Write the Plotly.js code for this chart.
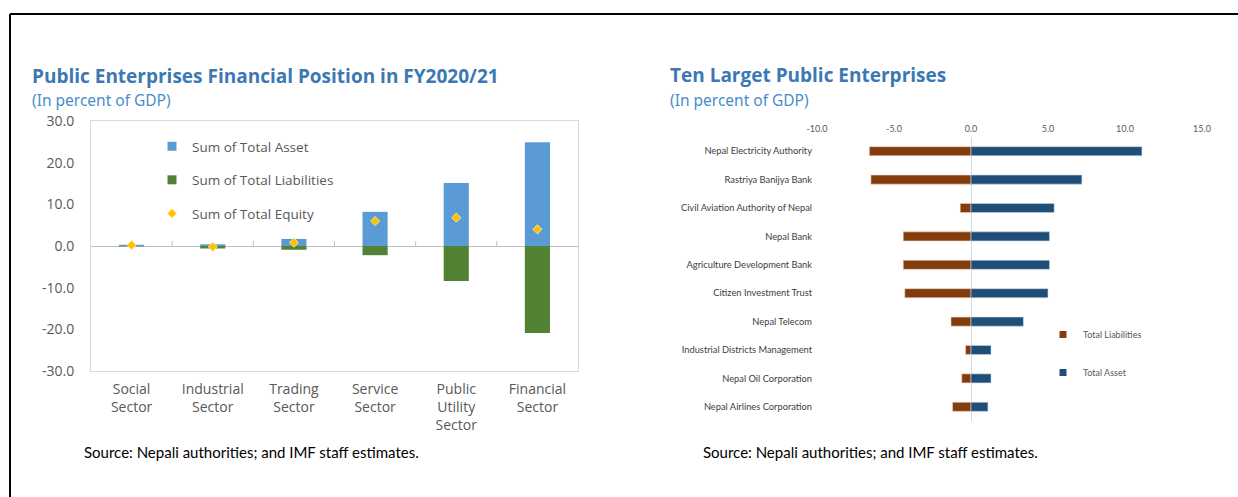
<!DOCTYPE html>
<html>
<head>
<meta charset="utf-8">
<script src="https://cdn.plot.ly/plotly-3.0.1.min.js"></script>
<style>html,body{margin:0;padding:0;background:#fff;}#chart{width:1238px;height:497px;}</style>
</head>
<body>
<div id="chart"></div>
<script>
// ---- Left chart data: Public Enterprises Financial Position in FY2020/21 (percent of GDP)
const sectors = ['Social<br>Sector', 'Industrial<br>Sector', 'Trading<br>Sector', 'Service<br>Sector', 'Public<br>Utility<br>Sector', 'Financial<br>Sector'];
const sumTotalAsset = [0.3, 0.4, 1.7, 8.2, 15.1, 24.9];
const sumTotalLiabilities = [-0.1, -0.6, -0.9, -2.2, -8.4, -20.9];
const sumTotalEquity = [0.2, -0.2, 0.8, 6.0, 6.8, 4.0];
const leftTicks = [-30, -20, -10, 0, 10, 20, 30];

// ---- Right chart data: Ten Larget Public Enterprises (percent of GDP)
const enterprises = ['Nepal Electricity Authority', 'Rastriya Banijya Bank', 'Civil Aviation Authority of Nepal', 'Nepal Bank', 'Agriculture Development Bank', 'Citizen Investment Trust', 'Nepal Telecom', 'Industrial Districts Management', 'Nepal Oil Corporation', 'Nepal Airlines Corporation'];
const entLiabilities = [-6.6, -6.5, -0.7, -4.4, -4.4, -4.3, -1.3, -0.35, -0.6, -1.2];
const entAssets = [11.1, 7.2, 5.4, 5.1, 5.1, 5.0, 3.4, 1.3, 1.3, 1.1];
const rightTicks = [-10, -5, 0, 5, 10, 15];

const W = 1238, H = 497;
const px = v => v / W;
const py = v => 1 - v / H;

const cAsset = '#5B9BD5', cLiab = '#548235', cEq = '#FFC000';
const cAsset2 = '#1F4E79', cLiab2 = '#843C0C';

const traces = [
  {type: 'bar', x: sectors, y: sumTotalAsset, xaxis: 'x', yaxis: 'y', marker: {color: cAsset}, width: 0.31, showlegend: false, hoverinfo: 'y'},
  {type: 'bar', x: sectors, y: sumTotalLiabilities, xaxis: 'x', yaxis: 'y', marker: {color: cLiab}, width: 0.31, showlegend: false, hoverinfo: 'y'},
  {type: 'scatter', mode: 'markers', x: sectors, y: sumTotalEquity, xaxis: 'x', yaxis: 'y', marker: {symbol: 'diamond', size: 7, color: cEq, line: {color: '#FFE38A', width: 1}}, showlegend: false},
  // legend entries (left)
  {type: 'scatter', mode: 'markers', x: [null], y: [null], xaxis: 'x', yaxis: 'y', name: 'Sum of Total Asset', legendgroup: 'a', marker: {symbol: 'square', size: 9, color: cAsset}},
  {type: 'scatter', mode: 'markers', x: [null], y: [null], xaxis: 'x', yaxis: 'y', name: 'Sum of Total Liabilities', legendgroup: 'b', marker: {symbol: 'square', size: 9, color: cLiab}},
  {type: 'scatter', mode: 'markers', x: [null], y: [null], xaxis: 'x', yaxis: 'y', name: 'Sum of Total Equity', legendgroup: 'c', marker: {symbol: 'diamond', size: 7, color: cEq, line: {color: '#FFE38A', width: 1}}},

  {type: 'bar', orientation: 'h', y: enterprises, x: entLiabilities, xaxis: 'x2', yaxis: 'y2', marker: {color: cLiab2, line: {color: '#E8D5C8', width: 0.6}}, width: 0.32, showlegend: false},
  {type: 'bar', orientation: 'h', y: enterprises, x: entAssets, xaxis: 'x2', yaxis: 'y2', marker: {color: cAsset2, line: {color: '#C9D6E3', width: 0.6}}, width: 0.32, showlegend: false},
  // legend entries (right)
  {type: 'scatter', mode: 'markers', x: [null], y: [null], xaxis: 'x2', yaxis: 'y2', name: 'Total Liabilities', legend: 'legend2', legendgroup: 'l', marker: {symbol: 'square', size: 7, color: cLiab2}},
  {type: 'scatter', mode: 'markers', x: [null], y: [null], xaxis: 'x2', yaxis: 'y2', name: 'Total Asset', legend: 'legend2', legendgroup: 'm', marker: {symbol: 'square', size: 7, color: cAsset2}}
];

// small tick marks on the zero line between sector categories
const shapes = [];
for (let i = 0; i < sectors.length - 1; i++) {
  shapes.push({type: 'line', xref: 'x', yref: 'y', x0: i + 0.5, x1: i + 0.5, y0: 0, y1: 1.2, line: {color: '#BFBFBF', width: 1}});
}
// outer frame (top and left edges)
shapes.push({type: 'line', xref: 'paper', yref: 'paper', x0: px(10), x1: 1, y0: py(14), y1: py(14), line: {color: '#000', width: 2}});
shapes.push({type: 'line', xref: 'paper', yref: 'paper', x0: px(10), x1: px(10), y0: py(14), y1: 0, line: {color: '#000', width: 2}});

const titleColor = '#3B78B4', subColor = '#4A8DCB';
const titleFont = {family: '"Open Sans", sans-serif', size: 19, color: titleColor};
const subFont = {family: '"Noto Sans", sans-serif', size: 15.5, color: subColor};
const srcFont = {family: 'Lato, sans-serif', size: 15, color: '#000'};
const annotations = [
  {text: '<b>Public Enterprises Financial Position in FY2020/21</b>', x: px(30), y: py(76), font: titleFont},
  {text: '(In percent of GDP)', x: px(30), y: py(100), font: subFont},
  {text: '<b>Ten Larget Public Enterprises</b>', x: px(668), y: py(75), font: titleFont},
  {text: '(In percent of GDP)', x: px(668), y: py(100), font: subFont},
  {text: 'Source: Nepali authorities; and IMF staff estimates.', x: px(82), y: py(452), font: srcFont},
  {text: 'Source: Nepali authorities; and IMF staff estimates.', x: px(701), y: py(452), font: srcFont}
].map(a => Object.assign({xref: 'paper', yref: 'paper', showarrow: false, xanchor: 'left', yanchor: 'middle'}, a));

const layout = {
  width: W, height: H, autosize: false,
  margin: {l: 0, r: 0, t: 0, b: 0},
  paper_bgcolor: '#fff', plot_bgcolor: '#fff',
  barmode: 'relative',
  font: {family: '"Open Sans", sans-serif', color: '#595959'},
  xaxis: {
    domain: [px(91), px(578)], anchor: 'y', type: 'category',
    showgrid: false, zeroline: false, showline: true, mirror: true, linecolor: '#D9D9D9', linewidth: 1,
    ticks: '', ticklabelstandoff: 5, tickfont: {size: 14, color: '#595959'}
  },
  yaxis: {
    domain: [py(371), py(121)], anchor: 'x', range: [-30, 30],
    tickmode: 'array', tickvals: leftTicks, ticktext: leftTicks.map(v => v.toFixed(1)),
    showgrid: false, zeroline: true, zerolinecolor: '#BFBFBF', zerolinewidth: 1,
    showline: true, mirror: true, linecolor: '#D9D9D9', linewidth: 1,
    ticks: '', ticklabelstandoff: 13, tickfont: {size: 14, color: '#595959'}
  },
  xaxis2: {
    domain: [px(817), px(1202)], anchor: 'y2', side: 'top', range: [-10, 15],
    tickmode: 'array', tickvals: rightTicks, ticktext: rightTicks.map(v => v.toFixed(1)),
    showgrid: false, zeroline: true, zerolinecolor: '#D9D9D9', zerolinewidth: 1, showline: false,
    ticks: '', ticklabelstandoff: 2, tickfont: {family: 'Lato, sans-serif', size: 9, color: '#595959'}
  },
  yaxis2: {
    domain: [py(421), py(137)], anchor: 'x2', type: 'category', autorange: 'reversed',
    showgrid: false, zeroline: false, showline: false,
    ticks: '', ticklabelstandoff: 4, tickfont: {family: 'Lato, sans-serif', size: 9.3, color: '#404040'}
  },
  legend: {
    x: px(152), y: py(131), xanchor: 'left', yanchor: 'top',
    traceorder: 'grouped', tracegroupgap: 13, bgcolor: 'rgba(0,0,0,0)',
    font: {family: '"Open Sans", sans-serif', size: 13.5, color: '#595959'}
  },
  legend2: {
    x: px(1043), y: py(320), xanchor: 'left', yanchor: 'top',
    traceorder: 'grouped', tracegroupgap: 19, bgcolor: 'rgba(0,0,0,0)',
    font: {family: 'Lato, sans-serif', size: 9, color: '#595959'}
  },
  shapes: shapes,
  annotations: annotations
};

Plotly.newPlot('chart', traces, layout, {displayModeBar: false, staticPlot: true});
</script>
</body>
</html>
